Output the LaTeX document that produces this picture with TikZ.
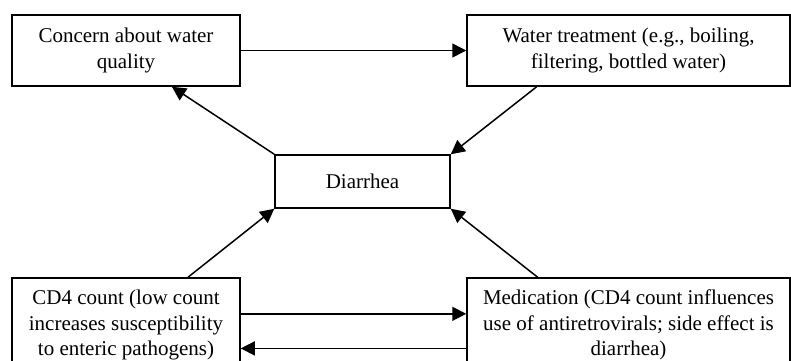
\documentclass[tikz,border=0pt]{standalone}
\usepackage{fontspec}
\setmainfont{Liberation Serif}
\usepackage{tikz}
\usetikzlibrary{arrows.meta,calc}

\begin{document}
\begin{tikzpicture}[x=0.5pt, y=-0.5pt,
        box/.style={draw, line width=0.75pt, align=center, inner sep=2pt,
            font=\fontsize{10.5}{12.8}\selectfont},
        arr/.style={line width=0.75pt, -{Triangle[length=7pt,width=7pt]}}]
        \useasboundingbox (0,0) rectangle (791,360);

        % Top row
        \node [box, minimum width=114pt, minimum height=35.5pt] (concern) at (126,50.5)
            {Concern about water\\ quality};
        \node [box, minimum width=161.5pt, minimum height=35.5pt] (treat) at (628.5,50.5)
            {Water treatment (e.g., boiling,\\ filtering, bottled water)};

        % Middle
        \node [box, minimum width=87.5pt, minimum height=26.5pt] (diar) at (362.5,181.5)
            {Diarrhea};

        % Bottom row
        \node [box, minimum width=114pt, minimum height=47pt] (cd4) at (126,325)
            {CD4 count (low count\\ increases susceptibility\\ to enteric pathogens)};
        \node [box, minimum width=161.5pt, minimum height=47pt] (med) at (628.5,325)
            {Medication (CD4 count influences\\ use of antiretrovirals; side effect is\\ diarrhea)};

        % Arrows
        \draw [arr] (concern.east) -- (treat.west);
        \draw [arr] (diar.north west) -- ($(concern.south west)!0.7!(concern.south east)$);
        \draw [arr] ($(treat.south west)!0.217!(treat.south east)$) -- (diar.north east);
        \draw [arr] ($(cd4.north west)!0.77!(cd4.north east)$) -- (diar.south west);
        \draw [arr] ($(med.north west)!0.22!(med.north east)$) -- (diar.south east);
        \draw [arr] ($(cd4.north east)!0.383!(cd4.south east)$) -- ($(med.north west)!0.383!(med.south west)$);
        \draw [arr] ($(med.north west)!0.745!(med.south west)$) -- ($(cd4.north east)!0.745!(cd4.south east)$);
    \end{tikzpicture}
\end{document}
